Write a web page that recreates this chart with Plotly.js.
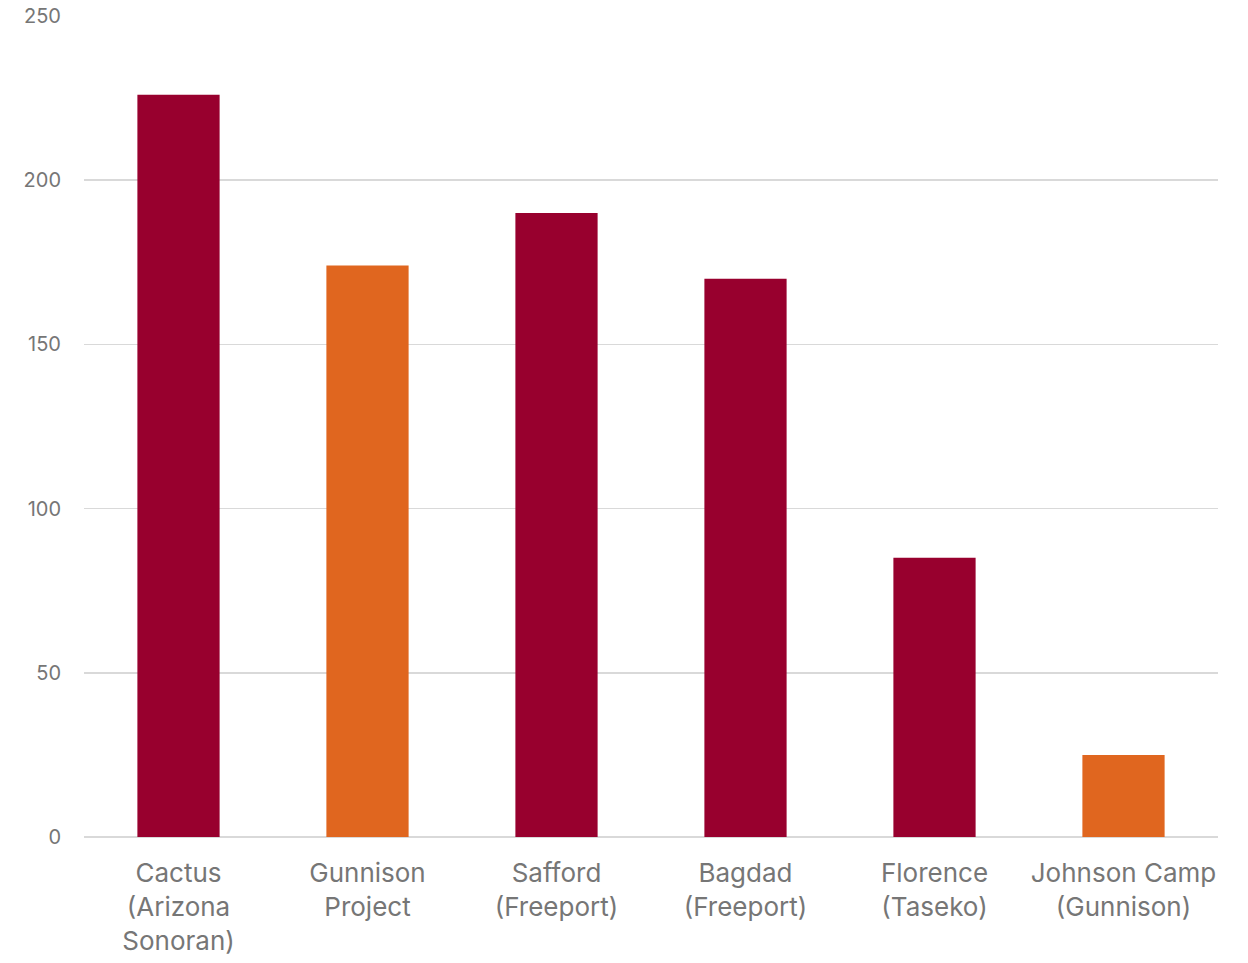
<!DOCTYPE html>
<html>
<head>
<meta charset="utf-8">
<script src="https://cdn.plot.ly/plotly-3.0.1.min.js"></script>
<style>html,body{margin:0;padding:0;background:#fff;}#chart{width:1248px;height:963px;}</style>
</head>
<body>
<div id="chart"></div>
<script>
const categories = ["Cactus<br>(Arizona<br>Sonoran)", "Gunnison<br>Project", "Safford<br>(Freeport)", "Bagdad<br>(Freeport)", "Florence<br>(Taseko)", "Johnson Camp<br>(Gunnison)"];
const values = [226, 174, 190, 170, 85, 25];
const owners = ["Arizona Sonoran", "Gunnison", "Freeport", "Freeport", "Taseko", "Gunnison"];
const yTicks = [0, 50, 100, 150, 200, 250];

const ownerColor = o => o === "Gunnison" ? "#E0661F" : "#98002E";

Plotly.newPlot("chart", [{
  type: "bar",
  x: categories,
  y: values,
  marker: {color: owners.map(ownerColor)},
  hoverinfo: "x+y"
}], {
  width: 1248, height: 963,
  margin: {l: 84, r: 30, t: 16, b: 126},
  paper_bgcolor: "#fff", plot_bgcolor: "#fff",
  bargap: 0.565,
  showlegend: false,
  font: {family: "Inter, 'Open Sans', sans-serif", color: "#767676"},
  xaxis: {
    type: "category",
    tickfont: {size: 26, color: "#767676"},
    showgrid: false, ticks: "", showline: false, zeroline: false,
    ticklabelstandoff: 18
  },
  yaxis: {
    range: [0, 250], tickvals: yTicks,
    tickfont: {size: 20, color: "#767676"},
    showgrid: true, gridcolor: "#D9D9D9", gridwidth: 1.5,
    zeroline: true, zerolinecolor: "#D9D9D9", zerolinewidth: 1.5,
    showline: false, ticks: "", ticklabelstandoff: 22
  }
}, {displayModeBar: false, staticPlot: true});
</script>
</body>
</html>
